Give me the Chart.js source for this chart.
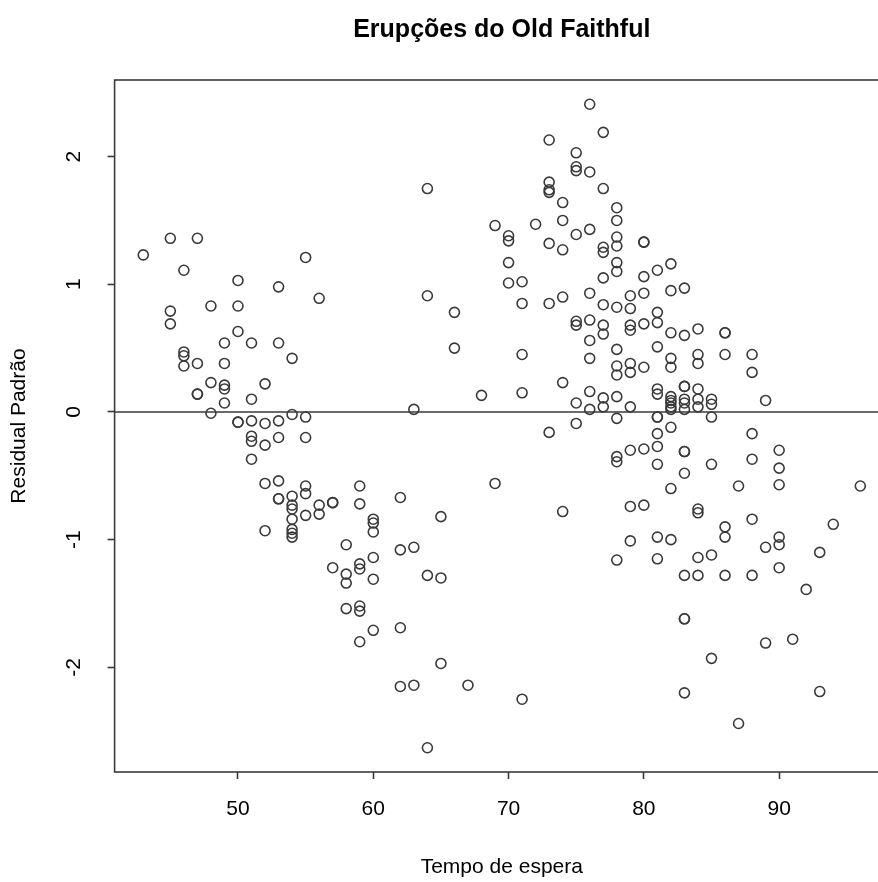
<!DOCTYPE html>
<html>
<head>
<meta charset="utf-8">
<title>Erupções do Old Faithful</title>
<script src="https://cdn.jsdelivr.net/npm/chart.js@4.4.1/dist/chart.umd.min.js"></script>
<style>
  html, body { margin: 0; padding: 0; background: #fff; overflow: hidden; }
  canvas { display: block; }
</style>
</head>
<body>
<canvas id="chart" width="920" height="882"></canvas>
<script>
// waiting time (min) and the standardized residuals observed at each one
const waiting = [
  43, 45, 46, 47, 48, 49, 50, 51, 52, 53, 54, 55, 56, 57, 58, 59, 60, 62, 63, 64,
  65, 66, 67, 68, 69, 70, 71, 72, 73, 74, 75, 76, 77, 78, 79, 80, 81, 82, 83, 84,
  85, 86, 87, 88, 89, 90, 91, 92, 93, 94, 96,
];
const residuals = [
  [1.23],
  [1.36, 0.79, 0.69],
  [1.11, 0.47, 0.44, 0.36],
  [1.36, 0.38, 0.14, 0.14],
  [0.83, 0.23, -0.01],
  [0.54, 0.38, 0.21, 0.18, 0.07],
  [1.03, 0.83, 0.63, -0.08, -0.08],
  [0.54, 0.1, -0.07, -0.19, -0.23, -0.37],
  [0.22, -0.09, -0.26, -0.56, -0.93],
  [0.98, 0.54, -0.07, -0.2, -0.54, -0.68, -0.68],
  [0.42, -0.02, -0.66, -0.73, -0.76, -0.84, -0.92, -0.95, -0.98],
  [1.21, -0.04, -0.2, -0.58, -0.64, -0.81],
  [0.89, -0.73, -0.8],
  [-0.71, -0.71, -1.22],
  [-1.04, -1.27, -1.34, -1.54],
  [-0.58, -0.72, -1.19, -1.23, -1.52, -1.56, -1.8],
  [-0.84, -0.87, -0.94, -1.14, -1.31, -1.71],
  [-0.67, -1.08, -1.69, -2.15],
  [0.02, -1.06, -2.14],
  [1.75, 0.91, -1.28, -2.63],
  [-0.82, -1.3, -1.97],
  [0.78, 0.5],
  [-2.14],
  [0.13],
  [1.46, -0.56],
  [1.38, 1.34, 1.17, 1.01],
  [1.02, 0.85, 0.45, 0.15, -2.25],
  [1.47],
  [2.13, 1.8, 1.74, 1.72, 1.32, 0.85, -0.16],
  [1.64, 1.5, 1.27, 0.9, 0.23, -0.78],
  [2.03, 1.92, 1.89, 1.39, 0.71, 0.68, 0.07, -0.09],
  [2.41, 1.88, 1.43, 0.93, 0.72, 0.56, 0.42, 0.16, 0.02],
  [2.19, 1.75, 1.29, 1.25, 1.05, 0.84, 0.68, 0.61, 0.11, 0.04],
  [1.6, 1.5, 1.37, 1.3, 1.17, 1.1, 0.82, 0.49, 0.36, 0.29, 0.12, -0.05, -0.35, -0.39, -1.16],
  [0.91, 0.81, 0.68, 0.64, 0.38, 0.31, 0.04, -0.3, -0.74, -1.01],
  [1.33, 1.33, 1.06, 0.93, 0.69, 0.35, -0.29, -0.73],
  [1.11, 0.78, 0.7, 0.51, 0.18, 0.14, -0.04, -0.04, -0.17, -0.27, -0.41, -0.98, -1.15],
  [1.16, 0.95, 0.62, 0.42, 0.35, 0.12, 0.09, 0.07, 0.04, 0.02, -0.12, -0.6, -1.0],
  [0.97, 0.6, 0.2, 0.2, 0.1, 0.07, 0.02, -0.31, -0.31, -0.48, -1.28, -1.62, -1.62, -2.2],
  [0.65, 0.45, 0.38, 0.18, 0.1, 0.04, -0.76, -0.79, -1.14, -1.28],
  [0.1, 0.06, -0.04, -0.41, -1.12, -1.93],
  [0.62, 0.62, 0.45, -0.9, -0.98, -1.28],
  [-0.58, -2.44],
  [0.45, 0.31, -0.17, -0.37, -0.84, -1.28],
  [0.09, -1.06, -1.81],
  [-0.3, -0.44, -0.57, -0.98, -1.04, -1.22],
  [-1.78],
  [-1.39],
  [-1.1, -2.19],
  [-0.88],
  [-0.58],
];

const xTicks = [50, 60, 70, 80, 90];
const yTicks = [-2, -1, 0, 1, 2];

const titleText = "Erupções do Old Faithful";
const xTitle = "Tempo de espera";
const yTitle = "Residual Padrão";

const family = "'Liberation Sans', Arial, Helvetica, sans-serif";
const ink = "#3a3a3a";

const points = waiting.flatMap((w, i) => residuals[i].map((r) => ({ x: w, y: r })));

// box around the plot, the zero reference line and the main title
const frame = {
  id: "frame",
  afterDatasetsDraw(chart) {
    const { ctx, chartArea: a, scales } = chart;
    const y0 = scales.y.getPixelForValue(0);
    ctx.save();
    ctx.strokeStyle = ink;
    ctx.lineWidth = 1.6;
    ctx.beginPath();
    ctx.moveTo(a.left, y0);
    ctx.lineTo(a.right, y0);
    ctx.stroke();
    ctx.strokeRect(a.left, a.top, a.right - a.left, a.bottom - a.top);
    ctx.fillStyle = "#000";
    ctx.font = "bold 25px " + family;
    ctx.textAlign = "center";
    ctx.textBaseline = "middle";
    ctx.fillText(titleText, (a.left + a.right) / 2, 30);
    ctx.restore();
  },
};

const chart = document.querySelector("#chart").getContext("2d");
new Chart(chart, {
  type: "scatter",
  data: {
    datasets: [
      {
        data: points,
        pointRadius: 5,
        pointHoverRadius: 5,
        pointBorderWidth: 1.6,
        pointBorderColor: ink,
        pointBackgroundColor: "rgba(0,0,0,0)",
      },
    ],
  },
  options: {
    responsive: false,
    animation: false,
    devicePixelRatio: 1,
    events: [],
    layout: { padding: { top: 80, right: 31, left: 0, bottom: 0 }, autoPadding: false },
    plugins: { legend: { display: false }, tooltip: { enabled: false }, title: { display: false } },
    scales: {
      x: {
        type: "linear",
        min: 40.88,
        max: 98.12,
        afterBuildTicks: (s) => { s.ticks = xTicks.map((v) => ({ value: v })); },
        afterFit: (s) => { s.height = 110; },
        border: { display: false },
        grid: { drawOnChartArea: false, tickLength: 7, tickColor: ink, tickWidth: 1.6 },
        ticks: {
          color: "#000",
          padding: 18,
          font: { family, size: 21 },
          callback: (v) => String(v),
        },
        title: {
          display: true,
          text: xTitle,
          color: "#000",
          font: { family, size: 21 },
          padding: { top: 0, bottom: 2 },
        },
      },
      y: {
        type: "linear",
        min: -2.82,
        max: 2.6,
        afterBuildTicks: (s) => { s.ticks = yTicks.map((v) => ({ value: v })); },
        afterFit: (s) => { s.width = 114.6; },
        border: { display: false },
        grid: { drawOnChartArea: false, tickLength: 7, tickColor: ink, tickWidth: 1.6 },
        ticks: {
          color: "#000",
          padding: 24,
          minRotation: 90,
          maxRotation: 90,
          crossAlign: "center",
          font: { family, size: 21 },
          callback: (v) => String(v),
        },
        title: {
          display: true,
          text: yTitle,
          color: "#000",
          font: { family, size: 21 },
          padding: { top: 7, bottom: 0 },
        },
      },
    },
  },
  plugins: [frame],
});
</script>
</body>
</html>
